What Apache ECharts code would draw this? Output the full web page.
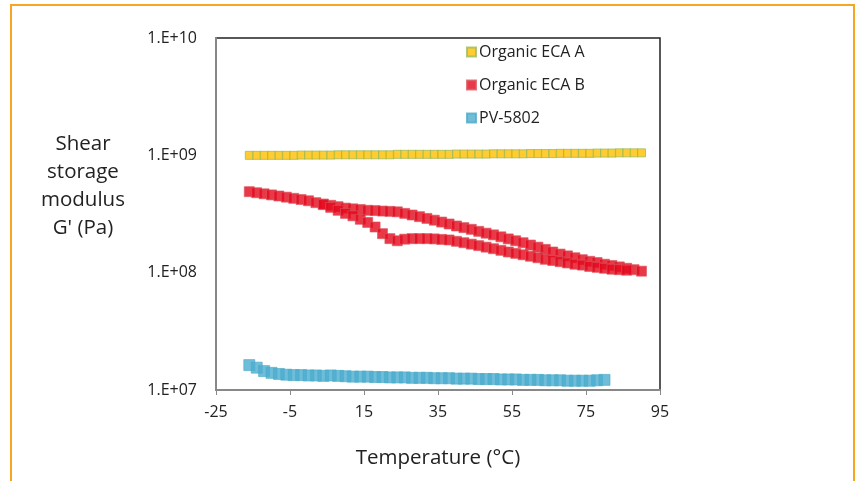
<!DOCTYPE html>
<html><head><meta charset="utf-8">
<script src="https://cdn.jsdelivr.net/npm/echarts@6/dist/echarts.min.js"></script>
<style>html,body{margin:0;padding:0;background:#fff}#c{width:860px;height:481px}</style>
</head><body><div id="c"></div>
<script>
// ---- data ----
const tempsA = [-16,-14,-12,-10,-8,-6,-4,-2,0,2,4,6,8,10,12,14,16,18,20,22,24,26,28,30,32,34,36,38,40,42,44,46,48,50,52,54,56,58,60,62,64,66,68,70,72,74,76,78,80,82,84,86,88,90];
const valuesA = [1.00e9,1.00e9,1.00e9,1.00e9,1.00e9,1.00e9,1.00e9,1.005e9,1.005e9,1.005e9,1.005e9,1.005e9,1.01e9,1.01e9,1.01e9,1.01e9,1.01e9,1.01e9,1.01e9,1.01e9,1.02e9,1.02e9,1.02e9,1.02e9,1.02e9,1.02e9,1.02e9,1.02e9,1.025e9,1.025e9,1.025e9,1.025e9,1.025e9,1.03e9,1.03e9,1.03e9,1.03e9,1.03e9,1.035e9,1.035e9,1.035e9,1.035e9,1.04e9,1.04e9,1.04e9,1.04e9,1.04e9,1.045e9,1.045e9,1.045e9,1.05e9,1.05e9,1.05e9,1.05e9];

const tempsBup = [-16,-14,-12,-10,-8,-6,-4,-2,0,2,4,6,8,10,12,14,16,18,20,22,24,26,28,30,32,34,36,38,40,42,44,46,48,50,52,54,56,58,60,62,64,66,68,70,72,74,76,78,80,82,84,86,88,90];
const valuesBup = [4.9e8,4.8e8,4.7e8,4.6e8,4.5e8,4.4e8,4.3e8,4.2e8,4.1e8,3.95e8,3.85e8,3.75e8,3.65e8,3.55e8,3.5e8,3.45e8,3.4e8,3.38e8,3.35e8,3.33e8,3.3e8,3.2e8,3.1e8,3.0e8,2.9e8,2.8e8,2.7e8,2.6e8,2.5e8,2.42e8,2.34e8,2.25e8,2.17e8,2.1e8,2.02e8,1.94e8,1.87e8,1.8e8,1.72e8,1.65e8,1.58e8,1.5e8,1.44e8,1.39e8,1.34e8,1.29e8,1.25e8,1.22e8,1.18e8,1.15e8,1.12e8,1.09e8,1.06e8,1.03e8];

const tempsBlow = [4,6,8,10,12,14,16,18,20,22,24,26,28,30,32,34,36,38,40,42,44,46,48,50,52,54,56,58,60,62,64,66,68,70,72,74,76,78,80,82,84,86];
const valuesBlow = [3.8e8,3.6e8,3.4e8,3.2e8,3.05e8,2.85e8,2.68e8,2.45e8,2.15e8,1.95e8,1.87e8,1.93e8,1.95e8,1.95e8,1.95e8,1.94e8,1.92e8,1.9e8,1.85e8,1.8e8,1.75e8,1.7e8,1.65e8,1.6e8,1.55e8,1.5e8,1.46e8,1.42e8,1.38e8,1.34e8,1.3e8,1.27e8,1.24e8,1.21e8,1.18e8,1.16e8,1.13e8,1.11e8,1.09e8,1.07e8,1.06e8,1.05e8];

const tempsPV = [-16,-14,-12,-10,-8,-6,-4,-2,0,2,4,6,8,10,12,14,16,18,20,22,24,26,28,30,32,34,36,38,40,42,44,46,48,50,52,54,56,58,60,62,64,66,68,70,72,74,76,78,80];
const valuesPV = [1.63e7,1.55e7,1.45e7,1.4e7,1.37e7,1.35e7,1.34e7,1.34e7,1.33e7,1.33e7,1.32e7,1.33e7,1.32e7,1.31e7,1.30e7,1.30e7,1.30e7,1.29e7,1.29e7,1.28e7,1.28e7,1.28e7,1.27e7,1.27e7,1.27e7,1.26e7,1.26e7,1.26e7,1.25e7,1.25e7,1.25e7,1.24e7,1.24e7,1.24e7,1.23e7,1.23e7,1.23e7,1.22e7,1.22e7,1.22e7,1.21e7,1.21e7,1.21e7,1.20e7,1.20e7,1.20e7,1.20e7,1.21e7,1.22e7];

const seriesNames = ['Organic ECA A','Organic ECA B','PV-5802'];
const xTicks = {min:-25, max:95, interval:20};
const yTicks = {min:1e7, max:1e10};
const xTitle = 'Temperature (°C)';
const yTitle = "Shear\nstorage\nmodulus\nG' (Pa)";

const zip = (xs, ys) => xs.map((x,i)=>[x, ys[i]]);
const FONT = '"Open Sans", sans-serif';

const chart = echarts.init(document.getElementById('c'));
chart.setOption({
  animation:false,
  backgroundColor:'#fff',
  graphic:[
    {type:'rect', shape:{x:11,y:5,width:843,height:490}, style:{fill:'none', stroke:'#f6a623', lineWidth:2}, z:-10},
    {type:'text', left:41, top:130, style:{text:yTitle, font:'20.5px '+FONT, fill:'#222', textAlign:'center', lineHeight:28}}
  ],
  grid:{left:216, top:38, width:444, height:352, show:true, borderColor:'#222', borderWidth:1.5, backgroundColor:'transparent'},
  legend:{
    orient:'vertical', left:461, top:39, itemGap:17, itemWidth:9, itemHeight:9, icon:'rect',
    data:seriesNames,
    textStyle:{fontFamily:FONT, fontSize:16, color:'#222', padding:[0,0,0,-2]}
  },
  xAxis:{
    type:'value', min:xTicks.min, max:xTicks.max, interval:xTicks.interval,
    splitLine:{show:false},
    axisLine:{show:true, onZero:false, lineStyle:{color:'#888', width:2}},
    axisTick:{show:true, length:5, lineStyle:{color:'#888'}},
    axisLabel:{fontFamily:FONT, fontSize:16, color:'#222', margin:14},
    name:xTitle, nameLocation:'middle', nameGap:58,
    nameTextStyle:{fontFamily:FONT, fontSize:20.5, color:'#222'}
  },
  yAxis:{
    type:'log', logBase:10, min:yTicks.min, max:yTicks.max,
    splitLine:{show:false},
    axisLine:{show:true, onZero:false, lineStyle:{color:'#888', width:2}},
    axisTick:{show:false},
    axisLabel:{fontFamily:FONT, fontSize:16, color:'#222', margin:19,
      formatter:v=>{const e=Math.round(Math.log10(v)); return '1.E+'+(e<10?'0'+e:e);}},
    minorTick:{show:false}
  },
  series:[
    {name:seriesNames[0], type:'scatter', symbol:'rect', symbolSize:8, clip:false,
     itemStyle:{color:'#ffc000', borderColor:'#9bbb59', borderWidth:1},
     data:zip(tempsA, valuesA), z:3},
    {name:seriesNames[1], type:'scatter', symbol:'rect', symbolSize:10, clip:false,
     itemStyle:{color:'#e3071c', borderColor:'#d9555d', borderWidth:0.8},
     data:zip(tempsBup, valuesBup), z:3},
    {name:seriesNames[1], type:'scatter', symbol:'rect', symbolSize:10, clip:false,
     itemStyle:{color:'#e3071c', borderColor:'#d9555d', borderWidth:0.8},
     data:zip(tempsBlow, valuesBlow), z:3},
    {name:seriesNames[2], type:'scatter', symbol:'rect', symbolSize:11, clip:false,
     itemStyle:{color:'#4bacd0', borderColor:'#4bacc6', borderWidth:0.8},
     data:zip(tempsPV, valuesPV), z:3}
  ]
});
</script></body></html>
